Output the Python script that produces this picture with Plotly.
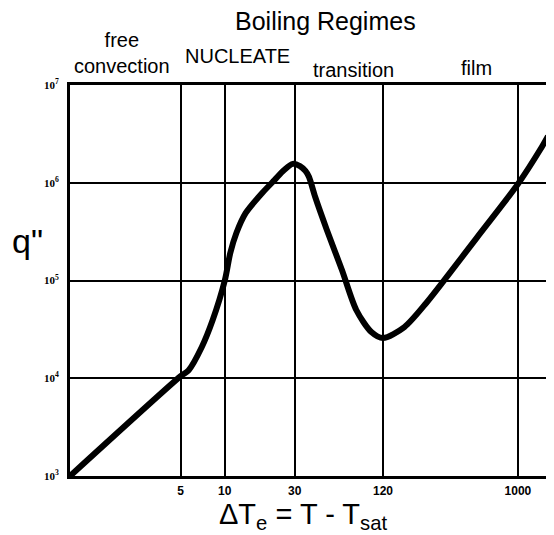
import plotly.graph_objects as go

# Data (log-log boiling curve)
delta_T = [0.88, 5, 5.67, 6.97, 8.27, 10, 10.9, 12.0, 13.9, 18.0, 21.9, 25.4, 29.1, 32.6,
           35.5, 37.5, 41.4, 49.7, 63.0, 78.9, 100, 120, 168, 237, 332, 525, 1000, 1413, 1603]
q_flux = [1e3, 1.05e4, 1.21e4, 2.09e4, 3.94e4, 1.0e5, 1.91e5, 3.06e5, 4.91e5, 7.86e5,
          1.07e6, 1.35e6, 1.56e6, 1.48e6, 1.32e6, 1.15e6, 7.14e5, 3.29e5, 1.28e5, 4.99e4,
          2.97e4, 2.58e4, 3.34e4, 5.89e4, 1.12e5, 2.75e5, 9.7e5, 2.16e6, 3.0e6]

x_tick_vals = [5, 10, 30, 120, 1000]
x_tick_text = ["5", "10", "30", "120", "1000"]
y_tick_vals = [1e3, 1e4, 1e5, 1e6, 1e7]
y_tick_text = ["10<sup>3</sup>", "10<sup>4</sup>", "10<sup>5</sup>", "10<sup>6</sup>", "10<sup>7</sup>"]

regime_labels = ["free<br>convection", "NUCLEATE", "transition", "film"]

SANS = "Liberation Sans, Arial, sans-serif"

fig = go.Figure()
fig.add_trace(go.Scatter(
    x=delta_T, y=q_flux, mode="lines",
    line=dict(color="black", width=6, shape="spline", smoothing=0.8),
    hoverinfo="skip", showlegend=False,
))

fig.update_xaxes(
    type="log", range=[-0.056, 3.246],
    tickmode="array", tickvals=x_tick_vals, ticktext=x_tick_text,
    showgrid=True, gridcolor="black", gridwidth=1.5,
    showline=True, linecolor="black", linewidth=3, mirror=True,
    ticks="", ticklabelstandoff=2,
    tickfont=dict(family="Liberation Sans, Arial", size=12, color="black", weight="bold"),
    zeroline=False,
)
fig.update_yaxes(
    type="log", range=[3, 7],
    tickmode="array", tickvals=y_tick_vals, ticktext=y_tick_text,
    showgrid=True, gridcolor="black", gridwidth=1.5,
    showline=True, linecolor="black", linewidth=3,
    ticks="", ticklabelstandoff=6,
    tickfont=dict(family="Liberation Serif, serif", size=11, color="black", weight="bold"),
    zeroline=False,
)

annotations = [
    dict(text="Boiling Regimes", x=0.527, y=1.164, font=dict(family=SANS, size=25)),
    dict(text=regime_labels[0], x=0.107, y=1.082, font=dict(family=SANS, size=20)),
    dict(text=regime_labels[1], x=0.347, y=1.074, font=dict(family=SANS, size=20)),
    dict(text=regime_labels[2], x=0.585, y=1.038, font=dict(family=SANS, size=20)),
    dict(text=regime_labels[3], x=0.839, y=1.043, font=dict(family=SANS, size=20)),
    dict(text="ΔT<sub>e</sub> = T - T<sub>sat</sub>", x=0.482, y=-0.102,
         font=dict(family=SANS, size=29)),
    dict(text="q\"", x=-0.087, y=0.601, font=dict(family=SANS, size=34)),
]
for a in annotations:
    a.update(xref="paper", yref="paper", showarrow=False,
             xanchor="center", yanchor="middle")
    a["font"]["color"] = "black"
fig.update_layout(
    annotations=annotations,
    width=546, height=527,
    margin=dict(l=62, r=0, t=77, b=59),
    plot_bgcolor="white", paper_bgcolor="white",
)

fig.write_html("out.html")
